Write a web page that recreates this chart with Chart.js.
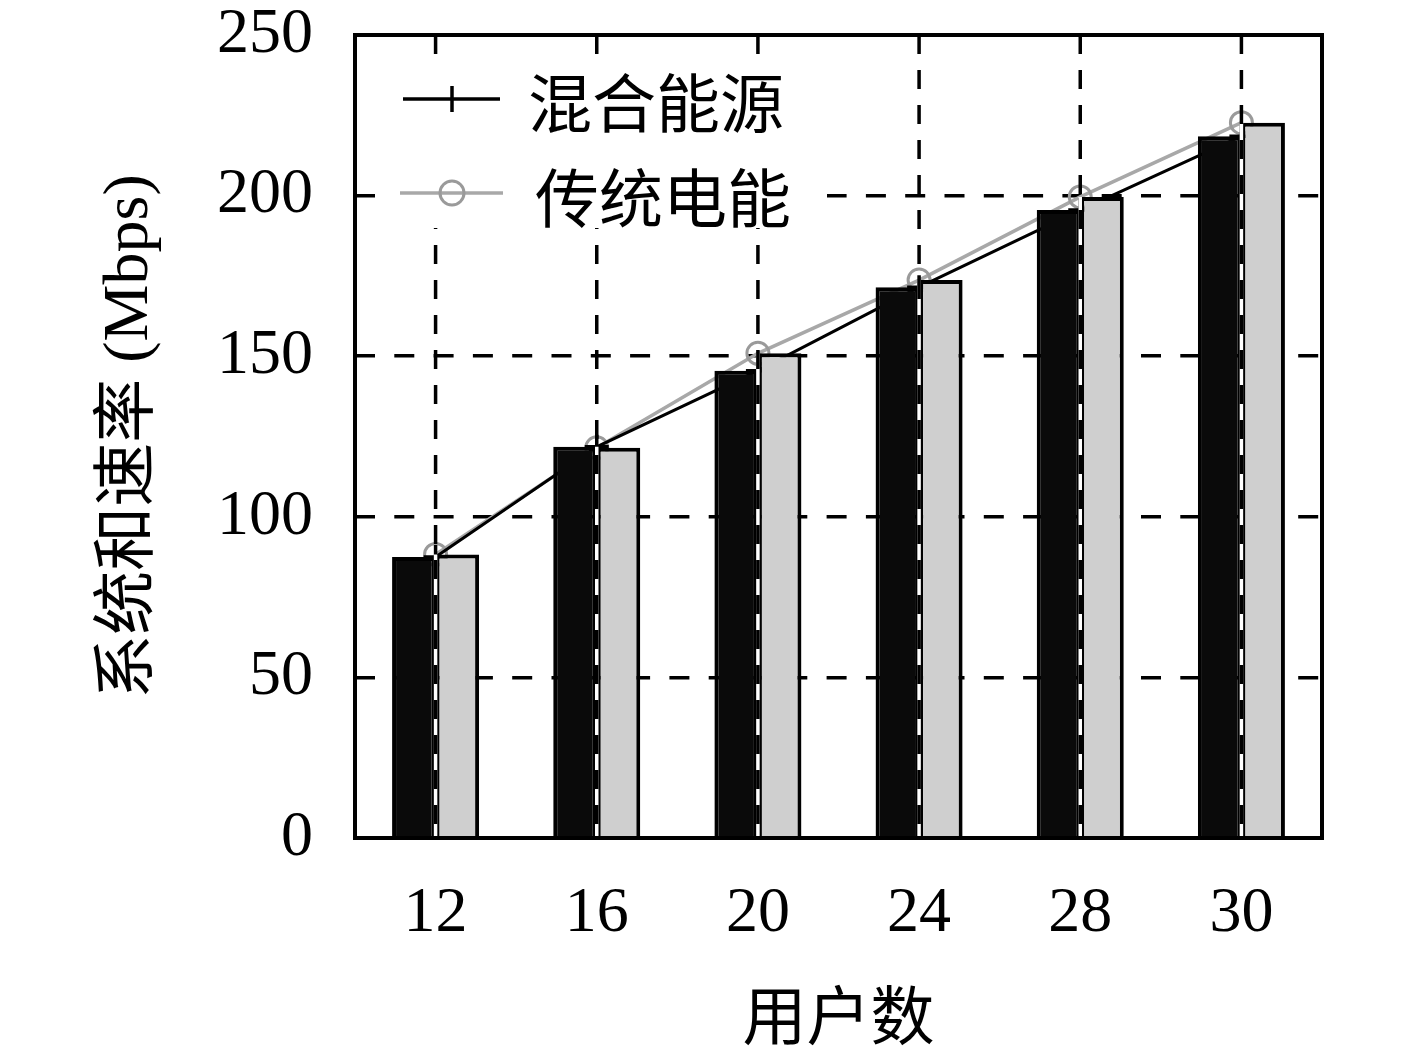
<!DOCTYPE html>
<html>
<head>
<meta charset="utf-8">
<script src="https://cdn.jsdelivr.net/npm/chart.js@4.4.1/dist/chart.umd.min.js"></script>
<style>
  body { margin: 0; background: #ffffff; }
  #wrap { position: relative; width: 1417px; height: 1056px; }
  .legend-text {
    position: absolute;
    font-family: "Noto Sans CJK SC", sans-serif;
    font-size: 64px;
    line-height: 64px;
    color: #000;
    white-space: nowrap;
  }
  #legendMarks { position: absolute; left: 0; top: 0; }
</style>
</head>
<body>
<div id="wrap">
  <canvas id="chart" width="1417" height="1056"></canvas>
  <svg id="legendMarks" width="1417" height="260">
    <rect x="381" y="60" width="446" height="168" fill="#ffffff"/>
    <line x1="403" y1="99" x2="500" y2="99" stroke="#000" stroke-width="3.5"/>
    <line x1="452" y1="86" x2="452" y2="112" stroke="#000" stroke-width="3.5"/>
    <line x1="400" y1="193" x2="503" y2="193" stroke="#a8a8a8" stroke-width="3.5"/>
    <circle cx="452" cy="193" r="12" fill="none" stroke="#9a9a9a" stroke-width="3"/>
  </svg>
  <div class="legend-text" style="left:528px; top:67px;">混合能源</div>
  <div class="legend-text" style="left:535px; top:162px;">传统电能</div>
</div>
<script>
// 用户数
const users = ['12', '16', '20', '24', '28', '30'];

// 系统和速率 (Mbps)
const hybridRate = [87.5, 121.8, 145.5, 171.5, 195.5, 218.5];
const gridRate = [88.3, 121.5, 150.9, 173.7, 199.6, 222.7];

const yTicks = [0, 50, 100, 150, 200, 250];

Chart.defaults.font.family = '"Liberation Serif", "Noto Sans CJK SC", serif';
Chart.defaults.color = '#000';

// 竖向虚线画在柱子前面
const frontGrid = {
  id: 'frontGrid',
  afterDatasetsDraw(chart) {
    const { ctx, chartArea, scales } = chart;
    const xs = scales.x;
    const barA = chart.getDatasetMeta(0).data;
    const barB = chart.getDatasetMeta(1).data;
    ctx.save();
    ctx.lineWidth = 3.5;
    xs.ticks.forEach((t, i) => {
      const x = xs.getPixelForTick(i);
      const top = Math.min(barA[i].y, barB[i].y);
      ctx.setLineDash([]);
      ctx.strokeStyle = '#ffffff';
      ctx.beginPath();
      ctx.moveTo(x, top);
      ctx.lineTo(x, chartArea.bottom);
      ctx.stroke();
      ctx.setLineDash([19, 16]);
      ctx.strokeStyle = '#000';
      ctx.beginPath();
      ctx.moveTo(x, chartArea.top);
      ctx.lineTo(x, chartArea.bottom);
      ctx.stroke();
    });
    ctx.restore();
  },
  afterDraw(chart) {
    const { ctx, chartArea } = chart;
    ctx.save();
    ctx.strokeStyle = '#000';
    ctx.lineWidth = 4;
    ctx.setLineDash([]);
    ctx.strokeRect(chartArea.left, chartArea.top,
      chartArea.right - chartArea.left, chartArea.bottom - chartArea.top);
    ctx.restore();
  }
};

new Chart(document.getElementById('chart'), {
  type: 'bar',
  data: {
    labels: users,
    datasets: [
      {
        label: '混合能源',
        data: hybridRate,
        backgroundColor: '#0a0a0a',
        borderColor: '#000',
        borderWidth: 4,
        order: 1
      },
      {
        label: '传统电能',
        data: gridRate,
        backgroundColor: '#cfcfcf',
        borderColor: '#000',
        borderWidth: 4,
        order: 1
      },
      {
        type: 'line',
        label: '混合能源',
        data: hybridRate,
        borderColor: '#000',
        borderWidth: 3,
        pointStyle: 'cross',
        pointRadius: 12,
        pointBorderWidth: 3.5,
        pointBorderColor: '#000',
        order: 2
      },
      {
        type: 'line',
        label: '传统电能',
        data: gridRate,
        borderColor: '#a8a8a8',
        borderWidth: 3.5,
        pointStyle: 'circle',
        pointRadius: 11,
        pointBorderWidth: 3,
        pointBorderColor: '#9a9a9a',
        pointBackgroundColor: 'rgba(0,0,0,0)',
        order: 2
      }
    ]
  },
  options: {
    responsive: false,
    animation: false,
    devicePixelRatio: 1,
    layout: { autoPadding: false, padding: { left: 0, right: 95, top: 35, bottom: 0 } },
    datasets: {
      bar: { categoryPercentage: 0.54, barPercentage: 1.0 }
    },
    plugins: {
      legend: { display: false },
      tooltip: { enabled: false }
    },
    scales: {
      x: {
        offset: true,
        grid: { display: false },
        border: { display: false },
        ticks: { font: { size: 64 }, padding: 30 },
        title: {
          display: true,
          text: '用户数',
          font: { size: 64, family: '"Noto Sans CJK SC", sans-serif' },
          padding: { top: 0, bottom: 3 }
        },
        afterFit(scale) {
          scale.height = 218;
          scale.paddingLeft = 0;
          scale.paddingRight = 0;
        }
      },
      y: {
        min: 0,
        max: 250,
        afterBuildTicks(scale) { scale.ticks = yTicks.map(v => ({ value: v })); },
        grid: {
          drawTicks: false,
          lineWidth: 3.5,
          color: ctx => (ctx.tick && (ctx.tick.value === 0 || ctx.tick.value === 250)) ? 'rgba(0,0,0,0)' : '#000'
        },
        border: { display: false, dash: [20, 19.3] },
        ticks: { font: { size: 64 }, padding: 42 },
        title: {
          display: true,
          text: '系统和速率 (Mbps)',
          font: { size: 64 },
          padding: { top: 92, bottom: 0 }
        },
        afterFit(scale) {
          scale.width = 355;
          scale.paddingTop = 0;
          scale.paddingBottom = 0;
        }
      }
    }
  },
  plugins: [frontGrid]
});
</script>
</body>
</html>
